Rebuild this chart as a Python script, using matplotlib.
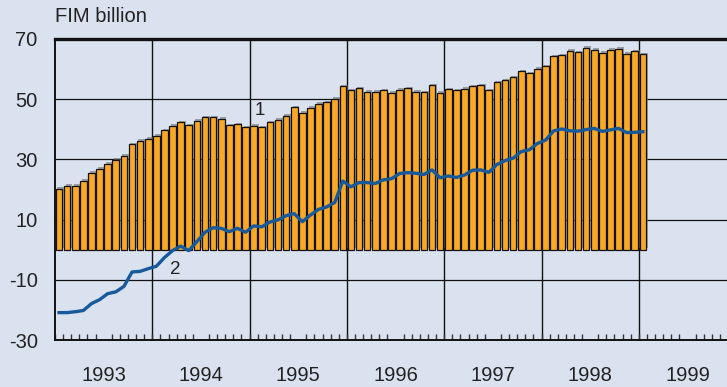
import matplotlib
matplotlib.use("Agg")
import matplotlib.pyplot as plt
import matplotlib.patheffects as pe
import numpy as np

plt.rcParams['font.family'] = ['Liberation Sans', 'DejaVu Sans']

# Monthly data, January 1993 - January 1999 (FIM billion)
series1 = [20.2, 21.3, 21.3, 22.8, 25.5, 26.8, 28.6, 29.8, 31.1, 35.0, 36.2, 36.8,
           37.9, 39.7, 41.2, 42.3, 41.3, 42.8, 44.0, 44.0, 43.5, 41.3, 41.6, 40.6,
           41.1, 40.7, 42.3, 43.2, 44.5, 47.3, 45.5, 47.1, 48.4, 49.0, 50.1, 54.3,
           53.0, 53.6, 52.4, 52.4, 53.0, 52.1, 53.1, 53.6, 52.4, 52.3, 54.6, 52.1,
           53.3, 53.0, 53.4, 54.3, 54.6, 53.0, 55.6, 56.3, 57.3, 59.3, 58.6, 60.0,
           60.9, 64.2, 64.6, 66.1, 65.6, 67.1, 66.4, 65.4, 66.4, 66.8, 65.0, 65.9,
           64.9]
series2 = [-20.9, -20.9, -20.6, -20.2, -17.9, -16.6, -14.6, -14.0, -12.2, -7.4, -7.2, -6.3,
           -5.5, -2.6, -0.3, 1.2, -0.3, 2.7, 5.8, 7.3, 7.1, 6.0, 7.1, 5.8,
           7.9, 7.6, 9.2, 9.9, 11.3, 12.0, 9.3, 11.5, 13.4, 14.2, 15.7, 22.8,
           20.9, 22.3, 22.3, 22.0, 23.2, 23.6, 25.3, 25.6, 25.4, 25.0, 26.5, 23.9,
           24.5, 24.0, 24.8, 26.4, 26.5, 25.7, 28.3, 29.6, 30.4, 32.6, 33.2, 35.3,
           36.4, 39.5, 40.1, 39.5, 39.4, 39.9, 40.3, 39.3, 39.8, 40.3, 38.9, 39.0,
           39.2]
years = ['1993', '1994', '1995', '1996', '1997', '1998', '1999']
y_ticks = [70, 50, 30, 10, -10, -30]

bg = '#dbe2ef'
bar_color = '#f9a828'
line_color = '#175a9c'
text_color = '#222222'

W, H = 727, 387
fig = plt.figure(figsize=(W / 100, H / 100), dpi=100, facecolor=bg)
left, top, bottom = 55, 39, 340
month_px = 97.3 / 12
n_months = 12 * len(years)
ax = fig.add_axes([left / W, 1 - bottom / H, n_months * month_px / W, (bottom - top) / H])
ax.set_facecolor(bg)

x = np.arange(len(series1)) + 0.5
ax.set_xlim(0, n_months)
ax.set_ylim(-30, 70)

# grid: horizontal value lines and vertical year separators
for v in [50, 30, 10, -10]:
    ax.axhline(v, color='#111111', lw=0.9, zorder=1)
for k in range(1, len(years)):
    ax.axvline(12 * k, color='#111111', lw=1.0, zorder=1)

shadow = [pe.SimplePatchShadow(offset=(1.2, 1.2), shadow_rgbFace='#707070', alpha=0.6), pe.Normal()]
bars = ax.bar(x, series1, width=0.82, color=bar_color, edgecolor='#111111', linewidth=0.9, zorder=2)
for b in bars:
    b.set_path_effects(shadow)

ax.plot(x, series2, color=line_color, lw=2.4, zorder=3, solid_joinstyle='round')

ax.text(25.3, 46.4, '1', fontsize=13.5, color=text_color, ha='center', va='center', zorder=4)
ax.text(14.8, -6.7, '2', fontsize=13.5, color=text_color, ha='center', va='center', zorder=4)

# spines
ax.spines['right'].set_visible(False)
ax.spines['top'].set_linewidth(2.4)
ax.spines['left'].set_linewidth(1.4)
ax.spines['bottom'].set_linewidth(1.4)
for s in ['top', 'left', 'bottom']:
    ax.spines[s].set_color('#111111')

# ticks
ax.set_yticks(y_ticks)
ax.set_yticklabels([str(v) for v in y_ticks])
ax.tick_params(axis='y', length=0, pad=12.5, labelsize=14.5, labelcolor=text_color)
ax.set_xticks(np.arange(0, n_months + 1, 1), minor=True)
ax.set_xticks(np.arange(6, n_months, 12))
ax.set_xticklabels(years)
ax.tick_params(axis='x', which='major', length=0, pad=19, labelsize=14.5, labelcolor=text_color)
ax.tick_params(axis='x', which='minor', direction='in', length=4, width=1.0, color='#333333')

fig.text(left / W, 1 - 17 / H, 'FIM billion', fontsize=14.5, color=text_color, ha='left', va='center')

fig.savefig('out.png', dpi=100, facecolor=bg)
